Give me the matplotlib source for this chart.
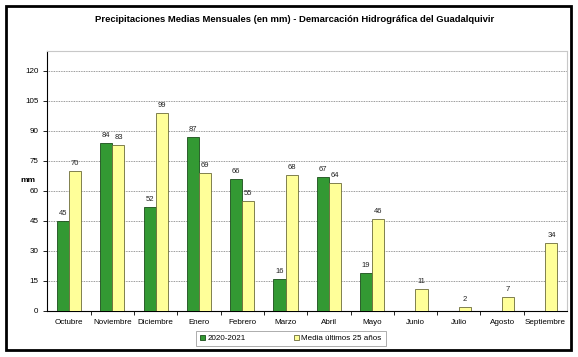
import numpy as np
import matplotlib.pyplot as plt
from matplotlib.patches import Rectangle

plt.rcParams['font.family'] = ['Liberation Sans', 'DejaVu Sans']

# Data
meses = ["Octubre", "Noviembre", "Diciembre", "Enero", "Febrero", "Marzo",
         "Abril", "Mayo", "Junio", "Julio", "Agosto", "Septiembre"]
anio_2020_21 = [45, 84, 52, 87, 66, 16, 67, 19, np.nan, np.nan, np.nan, np.nan]
media_25 = [70, 83, 99, 69, 55, 68, 64, 46, 11, 2, 7, 34]

fig = plt.figure(figsize=(5.78, 3.57), dpi=100)
ax = fig.add_axes([0.082, 0.13, 0.899, 0.728])

# Outer frame around the whole chart
fig.patches.append(Rectangle((6/578, 7/357), 565/578, 344/357,
                             transform=fig.transFigure, fill=False,
                             edgecolor='black', linewidth=2))

x = np.arange(len(meses))
w = 0.28
b1 = ax.bar(x - w/2, anio_2020_21, w, color='#339933', edgecolor='#1a4d1a',
            linewidth=0.6, label='2020-2021', zorder=3)
b2 = ax.bar(x + w/2, media_25, w, color='#ffff99', edgecolor='#6b6b3a',
            linewidth=0.6, label='Media últimos 25 años', zorder=3)

for xi, v in zip(x, anio_2020_21):
    if not np.isnan(v):
        ax.text(xi - w/2, v + 2, "%d" % v, ha='center', va='bottom',
                fontsize=5.5, color='#222222')
for xi, v in zip(x, media_25):
    ax.text(xi + w/2, v + 2, "%d" % v, ha='center', va='bottom',
            fontsize=5.5, color='#222222')

ax.set_xlim(-0.5, len(meses) - 0.5)
ax.set_ylim(0, 130)
ax.set_yticks(np.arange(0, 121, 15))
ax.yaxis.grid(True, linestyle=(0, (1, 1)), color='#777777', linewidth=0.6, zorder=0)
ax.set_xticks(x)
ax.set_xticklabels(meses, fontsize=5.8)
ax.set_xticks(np.arange(0.5, len(meses) - 0.5, 1), minor=True)
ax.tick_params(axis='x', which='major', length=0, pad=6)
ax.tick_params(axis='x', which='minor', length=3, width=0.6)
ax.tick_params(axis='y', labelsize=5.8, length=3, width=0.6)

for s in ['top', 'right']:
    ax.spines[s].set_color('#c8c8c8')
ax.spines['left'].set_linewidth(0.8)
ax.spines['bottom'].set_linewidth(0.8)

fig.text(20/578, 1 - 181/357, "mm", fontsize=6, fontweight='bold', ha='left', va='center')
fig.text(295/578, 1 - 20/357,
         "Precipitaciones Medias Mensuales (en mm) - Demarcación Hidrográfica del Guadalquivir",
         fontsize=6.8, fontweight='bold', ha='center', va='center')

leg = fig.legend(handles=[b1, b2], loc='center', bbox_to_anchor=(291/578, 1 - 338.5/357),
                 ncol=2, fontsize=5.8, frameon=True, fancybox=False,
                 handlelength=0.6, handleheight=0.6, columnspacing=6,
                 borderpad=0.5, handletextpad=0.3)
leg.get_frame().set_edgecolor('#888888')
leg.get_frame().set_linewidth(0.6)

fig.savefig("out.png", dpi=100)
